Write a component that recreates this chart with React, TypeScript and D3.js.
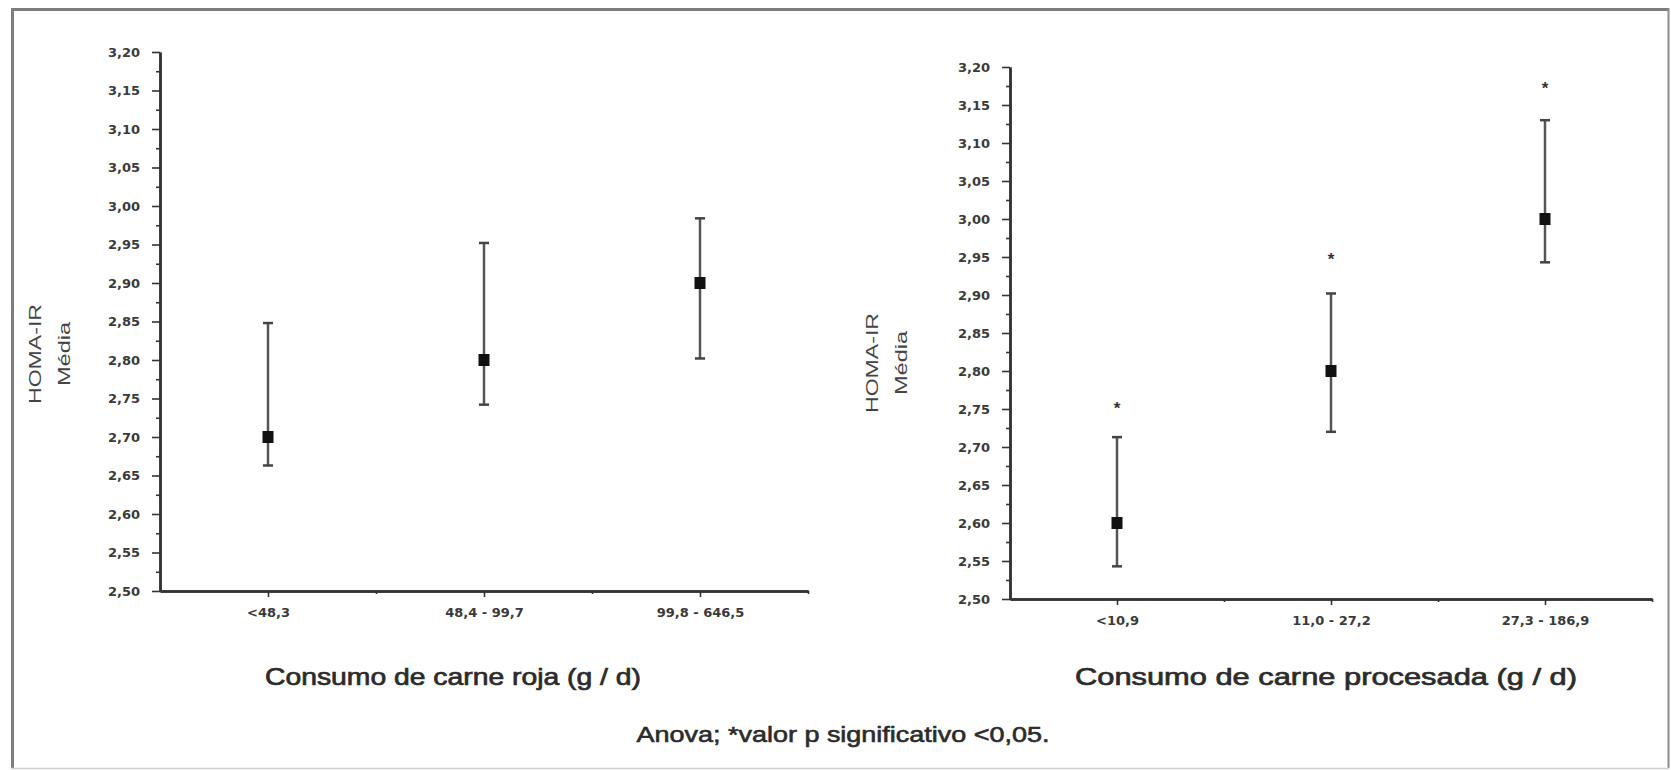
import React, { useEffect, useRef } from "react";
import * as d3 from "d3";

// HOMA-IR mean with error bars by meat intake group
const redCats = ["<48,3", "48,4 - 99,7", "99,8 - 646,5"];
const redMean = [2.7, 2.8, 2.9];
const redLow = [2.663, 2.742, 2.802];
const redHigh = [2.848, 2.952, 2.984];

const procCats = ["<10,9", "11,0 - 27,2", "27,3 - 186,9"];
const procMean = [2.6, 2.8, 3.0];
const procLow = [2.543, 2.72, 2.943];
const procHigh = [2.713, 2.902, 3.13];
const procStar = [2.757, 2.953, 3.178];

const yTicks = [2.5, 2.55, 2.6, 2.65, 2.7, 2.75, 2.8, 2.85, 2.9, 2.95, 3.0, 3.05, 3.1, 3.15, 3.2];
const yLabel = ["HOMA-IR", "Média"];
const titleRed = "Consumo de carne roja (g / d)";
const titleProc = "Consumo de carne procesada (g / d)";
const footer = "Anova; *valor p significativo <0,05.";

const W = 1671, H = 770;
const fmt = (v: number) => d3.format(".2f")(v).replace(".", ",");
const sans = "Liberation Sans, Arial, sans-serif";

function drawPanel(g: any, o: any) {
  const x = d3.scaleLinear().domain([0.5, 3.5]).range([o.x0, o.x1]);
  const y = d3.scaleLinear().domain([2.5, 3.2]).range([o.yb, o.yt]);
  const minorY = d3.range(2.525, 3.2, 0.05);

  // minor ticks first
  g.append("g").attr("transform", `translate(${o.x0},0)`)
    .call(d3.axisLeft(y).tickValues(minorY).tickSize(4).tickFormat(() => "").tickSizeOuter(0));
  const ya = g.append("g").attr("transform", `translate(${o.x0},0)`)
    .call(d3.axisLeft(y).tickValues(yTicks).tickSize(8).tickPadding(12).tickFormat(fmt).tickSizeOuter(0));
  ya.selectAll("text").attr("font-family", "DejaVu Sans, sans-serif").attr("font-size", 13).attr("font-weight", "bold").attr("fill", "#3a3a3a");

  g.append("g").attr("transform", `translate(0,${o.yb})`)
    .call(d3.axisBottom(x).tickValues([1.5, 2.5, 3.5]).tickSize(3).tickFormat(() => "").tickSizeOuter(0));
  const xa = g.append("g").attr("transform", `translate(0,${o.yb})`)
    .call(d3.axisBottom(x).tickValues([1, 2, 3]).tickSize(6).tickPadding(11).tickFormat((d: any) => o.cats[d - 1]).tickSizeOuter(0));
  xa.selectAll("text").attr("font-family", "DejaVu Sans, sans-serif").attr("font-size", 13).attr("font-weight", "bold").attr("fill", "#3a3a3a");

  g.selectAll(".domain").attr("stroke", "#333").attr("stroke-width", 2.5);
  g.selectAll(".tick line").attr("stroke", "#333").attr("stroke-width", 1.6);

  const idx = [0, 1, 2];
  const cap = 5;
  idx.forEach((i) => {
    const cx = x(i + 1);
    g.append("line").attr("x1", cx).attr("x2", cx).attr("y1", y(o.high[i])).attr("y2", y(o.low[i]))
      .attr("stroke", "#555").attr("stroke-width", 2.5);
    [o.high[i], o.low[i]].forEach((v: number) => {
      g.append("line").attr("x1", cx - cap).attr("x2", cx + cap).attr("y1", y(v)).attr("y2", y(v))
        .attr("stroke", "#444").attr("stroke-width", 2.5);
    });
    g.append("rect").attr("x", cx - 5.5).attr("y", y(o.mean[i]) - 6).attr("width", 11).attr("height", 12).attr("fill", "#111");
    if (o.star) {
      g.append("text").attr("x", cx).attr("y", y(o.star[i]) + 10).attr("text-anchor", "middle")
        .attr("font-family", sans).attr("font-size", 17).attr("font-weight", "bold")
        .attr("fill", "#333").text("*");
    }
  });

  // y axis title, two rotated lines
  const yl = [o.ylx, o.ylx + 29];
  yLabel.forEach((t, i) => {
    g.append("text").attr("transform", `translate(${yl[i]},${o.ylc}) rotate(-90)`)
      .attr("text-anchor", "middle").attr("dominant-baseline", "central")
      .attr("font-family", sans).attr("font-size", 16)
      .attr("textLength", i === 0 ? 100 : 64).attr("lengthAdjust", "spacingAndGlyphs")
      .attr("fill", "#444").text(t);
  });

  g.append("text").attr("x", o.tx).attr("y", 685).attr("text-anchor", "middle")
    .attr("font-family", sans).attr("font-size", 24)
    .attr("stroke", "#2b2b2b").attr("stroke-width", 0.7)
    .attr("textLength", o.tw).attr("lengthAdjust", "spacingAndGlyphs")
    .attr("fill", "#2b2b2b").text(o.title);
}

export default function App() {
  const ref = useRef<SVGSVGElement>(null);
  useEffect(() => {
    const node = ref.current; if (!node) return;
    document.body.style.margin = "0";
    const svg = d3.select(node);
    svg.selectAll("*").remove();
    svg.append("rect").attr("width", W).attr("height", H).attr("fill", "#fff");
    // frame
    svg.append("line").attr("x1", 12.5).attr("x2", 12.5).attr("y1", 8).attr("y2", 768).attr("stroke", "#7d7d7d").attr("stroke-width", 3);
    svg.append("line").attr("x1", 11).attr("x2", 1669).attr("y1", 9.5).attr("y2", 9.5).attr("stroke", "#7d7d7d").attr("stroke-width", 3);
    svg.append("line").attr("x1", 1668.5).attr("x2", 1668.5).attr("y1", 8).attr("y2", 768).attr("stroke", "#8a8a8a").attr("stroke-width", 2);
    svg.append("line").attr("x1", 11).attr("x2", 1669).attr("y1", 768.5).attr("y2", 768.5).attr("stroke", "#cfcfcf").attr("stroke-width", 1.5);

    const g = svg.append("g");
    drawPanel(g.append("g"), {
      x0: 160, x1: 808, yb: 591, yt: 52, cats: redCats, mean: redMean, low: redLow, high: redHigh,
      ylx: 35, ylc: 354, tx: 453, tw: 376, title: titleRed,
    });
    drawPanel(g.append("g"), {
      x0: 1010, x1: 1652, yb: 599, yt: 67, cats: procCats, mean: procMean, low: procLow, high: procHigh, star: procStar,
      ylx: 872, ylc: 363, tx: 1326, tw: 502, title: titleProc,
    });
    svg.append("text").attr("x", 843).attr("y", 742).attr("text-anchor", "middle")
      .attr("font-family", sans).attr("font-size", 22)
      .attr("stroke", "#2b2b2b").attr("stroke-width", 0.6)
      .attr("textLength", 413).attr("lengthAdjust", "spacingAndGlyphs")
      .attr("fill", "#2b2b2b").text(footer);
  }, []);
  return <svg ref={ref} width={W} height={H} style={{ display: "block", position: "absolute", left: 0, top: 0 }} />;
}
